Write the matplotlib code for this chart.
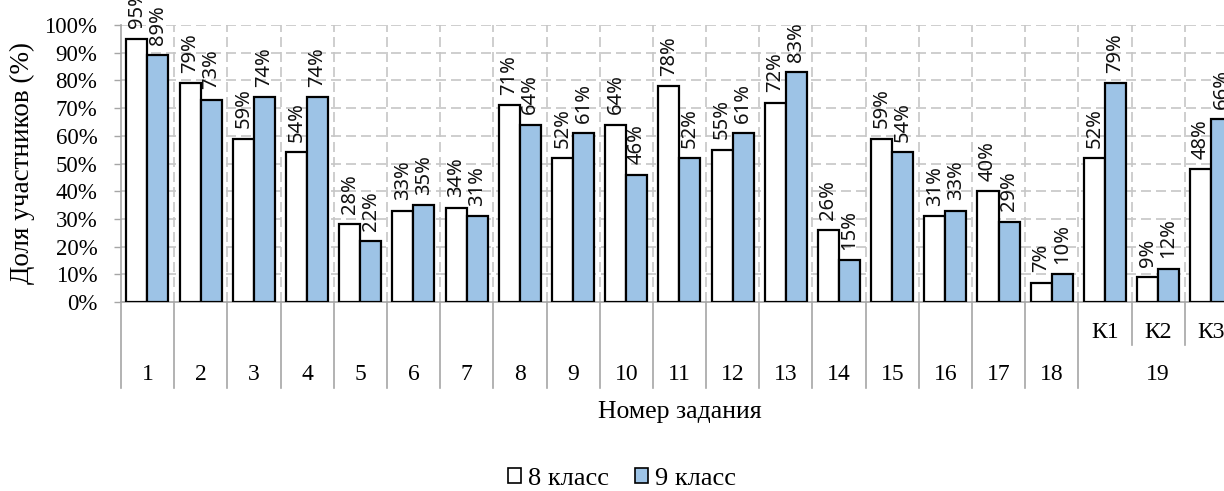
import matplotlib
matplotlib.use("Agg")
import matplotlib.pyplot as plt
from matplotlib.patches import Patch
from matplotlib.ticker import FuncFormatter, MultipleLocator
import matplotlib.transforms as mtransforms

tasks = ["1", "2", "3", "4", "5", "6", "7", "8", "9", "10", "11", "12",
         "13", "14", "15", "16", "17", "18", "К1", "К2", "К3"]
grade8 = [95, 79, 59, 54, 28, 33, 34, 71, 52, 64, 78, 55, 72, 26, 59, 31, 40, 7, 52, 9, 48]
grade9 = [89, 73, 74, 74, 22, 35, 31, 64, 61, 46, 52, 61, 83, 15, 54, 33, 29, 10, 79, 12, 66]
series_names = ["8 класс", "9 класс"]
group_label = "19"
group_members = ["К1", "К2", "К3"]

serif = "Liberation Serif"
label_font = "Noto Sans"
blue = "#9DC3E6"
axis_gray = "#A6A6A6"
grid_gray = "#C6C6C6"

fig = plt.figure(figsize=(12.24, 4.91), dpi=100)
ax_w = 1117
ax_h = 277
ax = fig.add_axes([121 / 1224, 189 / 491, ax_w / 1224, ax_h / 491])

n = len(tasks)
xs = list(range(n))
w = 0.395
b8 = ax.bar([x - 0.2 for x in xs], grade8, width=w, color="white",
            edgecolor="black", linewidth=1.6, zorder=3)
b9 = ax.bar([x + 0.195 for x in xs], grade9, width=w, color=blue,
            edgecolor="black", linewidth=1.6, zorder=3)

for bars, vals in ((b8, grade8), (b9, grade9)):
    for rect, v in zip(bars, vals):
        ax.annotate(f"{v}%", (rect.get_x() + rect.get_width() / 2, v),
                    xytext=(0, 7.5), textcoords="offset points",
                    rotation=90, ha="center", va="bottom",
                    fontsize=14.5, family=label_font, color="#111111",
                    annotation_clip=False, clip_on=False, zorder=4)

ax.set_xlim(-0.5, n - 0.5)
ax.set_ylim(0, 100)
ax.yaxis.set_major_locator(MultipleLocator(10))
ax.yaxis.set_major_formatter(FuncFormatter(lambda v, _: f"{int(v)}%"))
ax.tick_params(axis="y", labelsize=16.5, length=5, color=axis_gray, width=1,
               pad=12)
for lab in ax.get_yticklabels():
    lab.set_family(serif)
ax.set_xticks([])

# dashed grid
for y in range(10, 101, 10):
    ax.axhline(y, color=grid_gray, linestyle=(0, (6, 3)), linewidth=1.2, zorder=1)
for i in range(n):
    ax.axvline(i + 0.5, color=grid_gray, linestyle=(0, (6, 3)), linewidth=1.2, zorder=1)

for side in ("top", "right"):
    ax.spines[side].set_visible(False)
for side in ("left", "bottom"):
    ax.spines[side].set_color(axis_gray)
    ax.spines[side].set_linewidth(1.2)

# two-level category axis below the plot
trans = mtransforms.blended_transform_factory(ax.transData, ax.transAxes)
long_end = -86 / ax_h
short_end = -43 / ax_h
first_member = tasks.index(group_members[0])
for i in range(n + 1):
    bx = i - 0.5
    inner = first_member < i < first_member + len(group_members)
    ax.plot([bx, bx], [0, short_end if inner else long_end], transform=trans,
            color=axis_gray, linewidth=1.2, clip_on=False, zorder=2)

cat_size = 17
for i, t in enumerate(tasks):
    if t in group_members:
        ax.text(i, -30 / ax_h, t, transform=trans, ha="center", va="center",
                fontsize=cat_size, family=serif)
    else:
        ax.text(i, -73 / ax_h, t, transform=trans, ha="center", va="center",
                fontsize=cat_size, family=serif)
mid = first_member + (len(group_members) - 1) / 2
ax.text(mid, -73 / ax_h, group_label, transform=trans, ha="center", va="center",
        fontsize=cat_size, family=serif)

ax.text(0.5, -110 / ax_h, "Номер задания", transform=ax.transAxes,
        ha="center", va="center", fontsize=18.5, family=serif)
ax.set_ylabel("Доля участников (%)", fontsize=19.5, family=serif)
ax.yaxis.set_label_coords(-86 / ax_w, 0.5)

handles = [Patch(facecolor="white", edgecolor="black", linewidth=1.2),
           Patch(facecolor=blue, edgecolor="black", linewidth=1.2)]
fig.legend(handles, series_names, loc="center",
           bbox_to_anchor=(622 / 1224, 1 - 479 / 491),
           ncol=2, frameon=False, prop={"family": serif, "size": 19},
           handlelength=0.5, handleheight=0.5, handletextpad=0.25,
           columnspacing=1.0, borderaxespad=0, borderpad=0)

fig.savefig("out.png", dpi=100)
